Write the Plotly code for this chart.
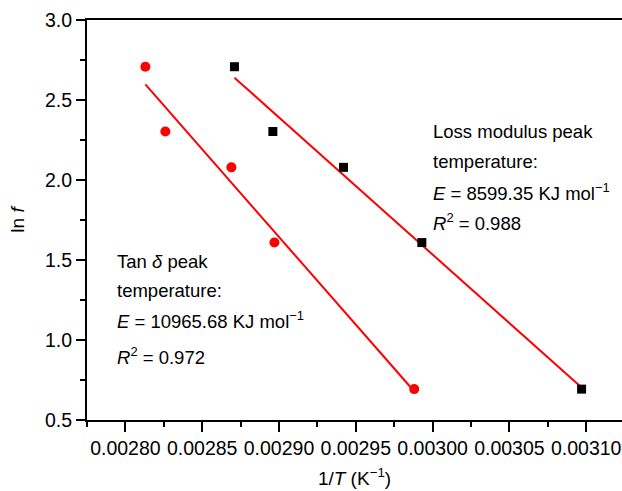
import numpy as np
import plotly.graph_objects as go

# ---- data ----
ln_f = [2.708, 2.303, 2.079, 1.609, 0.693]
inv_T_tan = [0.002813, 0.002826, 0.002869, 0.002897, 0.002988]
inv_T_loss = [0.002871, 0.002896, 0.002942, 0.002993, 0.003097]
x_tick_vals = [0.00280, 0.00285, 0.00290, 0.00295, 0.00300, 0.00305, 0.00310]
x_tick_text = ["0.00280", "0.00285", "0.00290", "0.00295", "0.00300", "0.00305", "0.00310"]
y_tick_vals = [0.5, 1.0, 1.5, 2.0, 2.5, 3.0]
y_tick_text = ["0.5", "1.0", "1.5", "2.0", "2.5", "3.0"]

FONT = "Liberation Sans, Arial, Helvetica, sans-serif"
W, H = 622, 491
L, R, T, B = 87, 0, 20, 71

def fit_line(x, y):
    k, b = np.polyfit(x, y, 1)
    xs = np.array([min(x), max(x)])
    return xs, k * xs + b

fig = go.Figure()
for xs_data in (inv_T_tan, inv_T_loss):
    fx, fy = fit_line(xs_data, ln_f)
    fig.add_trace(go.Scatter(x=fx, y=fy, mode="lines",
                             line=dict(color="#ff0000", width=2),
                             showlegend=False, hoverinfo="skip"))

fig.add_trace(go.Scatter(x=inv_T_tan, y=ln_f, mode="markers",
                         marker=dict(symbol="circle", size=10, color="#ff0000"),
                         showlegend=False))
fig.add_trace(go.Scatter(x=inv_T_loss, y=ln_f, mode="markers",
                         marker=dict(symbol="square", size=9, color="#000000"),
                         showlegend=False))

pw = W - L - R
ph = H - T - B
def px(xp):
    return (xp - L) / pw
def py(yp):
    return (H - B - yp) / ph

texts = [
    (431, 131, "Loss modulus peak"),
    (431, 161, "temperature:"),
    (431, 192, "<i>E</i> = 8599.35 KJ mol<sup>−1</sup>"),
    (431, 222, "<i>R</i><sup>2</sup> = 0.988"),
    (115, 261, "Tan <i>δ</i> peak"),
    (115, 290, "temperature:"),
    (115, 320, "<i>E</i> = 10965.68 KJ mol<sup>−1</sup>"),
    (115, 356, "<i>R</i><sup>2</sup> = 0.972"),
]
for xp, yp, t in texts:
    fig.add_annotation(x=px(xp), y=py(yp), xref="paper", yref="paper",
                       text=t, showarrow=False, xanchor="left", yanchor="middle",
                       font=dict(size=18.5, color="black", family=FONT))

x0 = 0.002775
x1 = x0 + pw * (0.00005 / 76.8)

fig.update_layout(
    width=W, height=H,
    margin=dict(l=L, r=R, t=T, b=B, pad=0),
    plot_bgcolor="white", paper_bgcolor="white",
    font=dict(family=FONT, size=18, color="black"),
    xaxis=dict(range=[x0, x1], tickvals=x_tick_vals, ticktext=x_tick_text,
               automargin=False,
               showgrid=False, zeroline=False, showline=True, linecolor="black",
               linewidth=2, mirror=True, ticks="outside", ticklen=10, tickwidth=2,
               tickcolor="black", tickfont=dict(size=19.5),
               minor=dict(tickvals=[0.002775, 0.002825, 0.002875, 0.002925,
                                    0.002975, 0.003025, 0.003075],
                          ticks="outside", ticklen=5, tickwidth=2, tickcolor="black"),
               title=dict(text="1/<i>T</i> (K<sup>−1</sup>)", standoff=13,
                          font=dict(size=19))),
    yaxis=dict(range=[0.5, 3.0], tickvals=y_tick_vals, ticktext=y_tick_text,
               automargin=False,
               showgrid=False, zeroline=False, showline=True, linecolor="black",
               linewidth=2, mirror=False, ticks="outside", ticklen=9, tickwidth=2,
               tickcolor="black", tickfont=dict(size=19.5),
               minor=dict(tickvals=[0.75, 1.25, 1.75, 2.25, 2.75],
                          ticks="outside", ticklen=5, tickwidth=2, tickcolor="black"),
               title=dict(text="ln <i>f</i>", standoff=15, font=dict(size=19))),
)

fig.write_html("out.html",
               config={"displayModeBar": False},
               post_script="document.body.style.margin='0';document.body.style.overflow='hidden';")
